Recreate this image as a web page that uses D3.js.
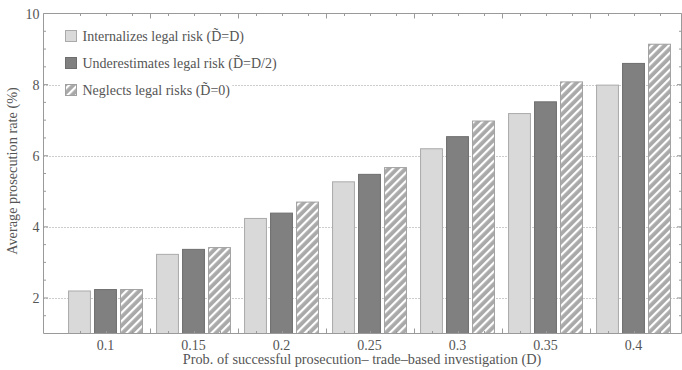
<!DOCTYPE html>
<html><head><meta charset="utf-8">
<script src="https://cdn.jsdelivr.net/npm/d3@7"></script>
<style>
body{margin:0;background:#fff;}
</style></head>
<body><svg id="c" width="682" height="370"></svg>
<script>
const categories = ["0.1","0.15","0.2","0.25","0.3","0.35","0.4"];
const seriesNames = ["Internalizes legal risk (D\u0303=D)","Underestimates legal risk (D\u0303=D/2)","Neglects legal risks (D\u0303=0)"];
const internalizes = [2.21,3.24,4.25,5.28,6.21,7.20,8.00];
const underestimates = [2.25,3.38,4.40,5.49,6.55,7.53,8.61];
const neglects = [2.25,3.43,4.71,5.68,6.99,8.09,9.15];
const yTicks = [2,4,6,8,10];
const xTitle = "Prob. of successful prosecution\u2013 trade\u2013based investigation (D)";
const yTitle = "Average prosecution rate (%)";

const values = [internalizes, underestimates, neglects];
const svg = d3.select("#c");
const L = 43.5, R = 681.5, T = 13.5, B = 333.5;
const TXT = "#555";
const FONT = "'Liberation Serif', 'Times New Roman', serif";

const defs = svg.append("defs");
const pat = defs.append("pattern").attr("id","hatch").attr("patternUnits","userSpaceOnUse")
  .attr("width",6).attr("height",6).attr("patternTransform","rotate(45)");
pat.append("rect").attr("width",6).attr("height",6).attr("fill","#a9a9a9");
pat.append("rect").attr("x",0).attr("width",2.2).attr("height",6).attr("fill","#fff");

const fills = ["#d9d9d9","#808080","url(#hatch)"];
const strokes = ["#aaaaaa","#6e6e6e","#a0a0a0"];

const x = d3.scaleBand().domain(categories).range([61.5, 677.5]).paddingInner(0).paddingOuter(0);
const xi = d3.scaleBand().domain(d3.range(3)).range([5, 83]).paddingInner(0.12).paddingOuter(0.06);
const y = d3.scaleLinear().domain([1,10]).range([B, T]);

// gridlines
svg.append("g").selectAll("line").data([2,4,6,8]).join("line")
  .attr("x1",L).attr("x2",R).attr("y1",d=>Math.round(y(d))+0.5).attr("y2",d=>Math.round(y(d))+0.5)
  .attr("stroke","#999").attr("stroke-width",1).attr("stroke-dasharray","1,2");

// bars
const g = svg.append("g");
categories.forEach((c,ci)=>{
  values.forEach((vals,si)=>{
    g.append("rect")
      .attr("x", x(c)+xi(si)+0.5).attr("width", xi.bandwidth()-1)
      .attr("y", y(vals[ci])+0.5).attr("height", B - y(vals[ci]) - 0.5)
      .attr("fill", fills[si]).attr("stroke", strokes[si]).attr("stroke-width",1);
  });
});

// frame
const fr = svg.append("g").attr("stroke","#9a9a9a").attr("stroke-width",1).attr("fill","none");
fr.append("line").attr("x1",L).attr("x2",R).attr("y1",B).attr("y2",B);
fr.append("line").attr("x1",L).attr("x2",R).attr("y1",T).attr("y2",T);
fr.append("line").attr("x1",L).attr("x2",L).attr("y1",T).attr("y2",B);
fr.append("line").attr("x1",R).attr("x2",R).attr("y1",T).attr("y2",B);

// x ticks: major at group boundaries, minor at bar centers
const majorX = categories.slice(1).map(c=>x(c));
const minorX = [];
categories.forEach(c=>d3.range(3).forEach(i=>minorX.push(x(c)+xi(i)+xi.bandwidth()/2)));
const tk = svg.append("g").attr("stroke","#9a9a9a").attr("stroke-width",1);
majorX.forEach(px=>{
  tk.append("line").attr("x1",Math.round(px)+0.5).attr("x2",Math.round(px)+0.5).attr("y1",B).attr("y2",B-5);
  tk.append("line").attr("x1",Math.round(px)+0.5).attr("x2",Math.round(px)+0.5).attr("y1",T).attr("y2",T+5);
});
minorX.forEach(px=>{
  tk.append("line").attr("x1",Math.round(px)+0.5).attr("x2",Math.round(px)+0.5).attr("y1",B).attr("y2",B-2.5);
  tk.append("line").attr("x1",Math.round(px)+0.5).attr("x2",Math.round(px)+0.5).attr("y1",T).attr("y2",T+2.5);
});
// y ticks
const minorY = d3.range(1.5,10,0.5).filter(v=>!yTicks.includes(v));
yTicks.forEach(v=>{
  tk.append("line").attr("x1",L).attr("x2",L+4.5).attr("y1",y(v)).attr("y2",y(v));
  tk.append("line").attr("x1",R).attr("x2",R-4.5).attr("y1",y(v)).attr("y2",y(v));
});
minorY.forEach(v=>{
  tk.append("line").attr("x1",L).attr("x2",L+2.5).attr("y1",y(v)).attr("y2",y(v));
  tk.append("line").attr("x1",R).attr("x2",R-2.5).attr("y1",y(v)).attr("y2",y(v));
});

// tick labels
svg.append("g").selectAll("text").data(categories).join("text")
  .attr("x",c=>x(c)+x.bandwidth()/2).attr("y",B+16).attr("text-anchor","middle")
  .attr("font-size",14).attr("fill",TXT).style("font-family",FONT).text(d=>d);
svg.append("g").selectAll("text").data(yTicks).join("text")
  .attr("x",L-4).attr("y",d=>y(d)+5).attr("text-anchor","end")
  .attr("font-size",14).attr("fill",TXT).style("font-family",FONT).text(d=>d);

// axis titles
svg.append("text").attr("x",362).attr("y",364).attr("text-anchor","middle").attr("font-size",14.3)
  .attr("fill",TXT).style("font-family",FONT).text(xTitle);
svg.append("text").attr("transform","translate(17,171) rotate(-90)").attr("text-anchor","middle").attr("font-size",14.3)
  .attr("fill",TXT).style("font-family",FONT).text(yTitle);

// legend
const lg = svg.append("g");
seriesNames.forEach((n,i)=>{
  const cy = 36 + i*27;
  const item = lg.append("g");
  const bg = item.append("rect").attr("fill","#fff");
  item.append("rect").attr("x",65.5).attr("y",cy-5.5).attr("width",11).attr("height",11)
    .attr("fill",fills[i]).attr("stroke",strokes[i]);
  const t = item.append("text").attr("x",82.5).attr("y",cy+5).attr("font-size",14).attr("fill",TXT)
    .style("font-family",FONT).text(n);
  const bb = t.node().getBBox();
  bg.attr("x",60).attr("y",cy-9).attr("width",bb.x+bb.width-60+2).attr("height",18);
});
</script></body></html>
